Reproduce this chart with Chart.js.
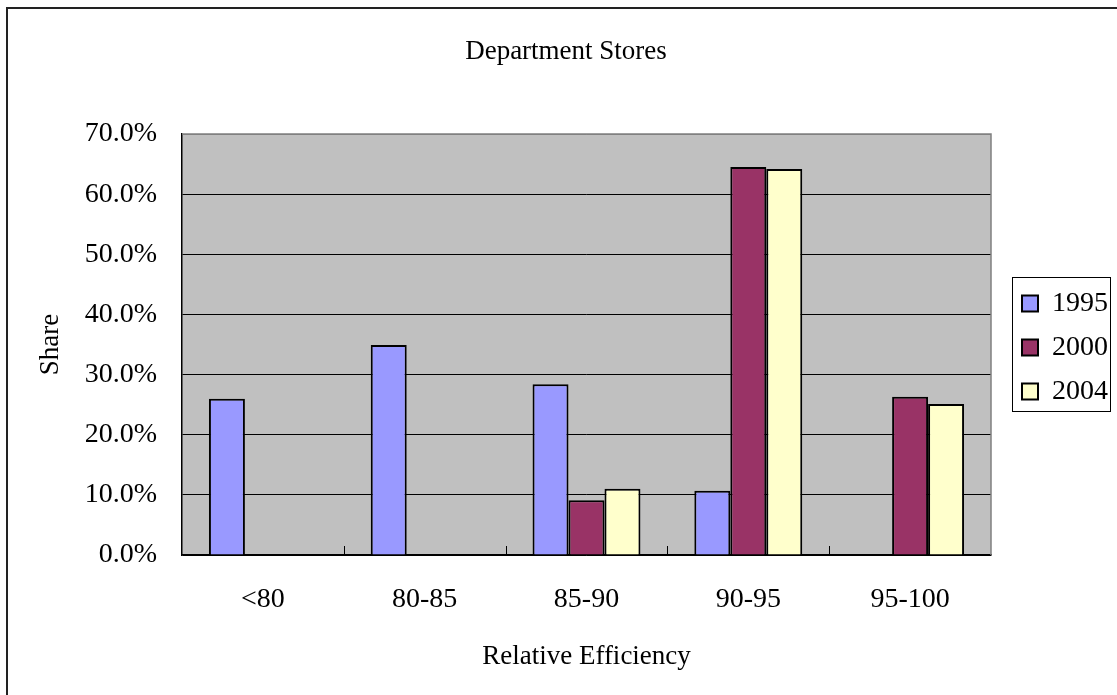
<!DOCTYPE html>
<html>
<head>
<meta charset="utf-8">
<script src="https://cdn.jsdelivr.net/npm/chart.js@4"></script>
<style>
  html, body { margin: 0; padding: 0; background: #fff; }
  canvas { display: block; }
</style>
</head>
<body>
<canvas id="chart" width="1117" height="695"></canvas>
<script>
const categories = ['<80', '80-85', '85-90', '90-95', '95-100'];
const years = ['1995', '2000', '2004'];
const share1995 = [26.0, 34.9, 28.4, 10.7, null];
const share2000 = [null, null, 9.1, 64.5, 26.3];
const share2004 = [null, null, 11.0, 64.2, 25.1];
const colors = ['#9999FF', '#993366', '#FFFFCC'];

const FONT = 'Liberation Serif, Times New Roman, serif';

// gray plot area, frame, inside x ticks, outer border, box round the legend
const excelLook = {
    id: 'excelLook',
    afterLayout(chart) {
        // leave a small gap between plot and legend, like Excel does
        chart.legend.left += 15;
        chart.legend.right += 15;
    },
    beforeDraw(chart) {
        const {ctx, chartArea: a} = chart;
        ctx.save();
        ctx.fillStyle = '#C0C0C0';
        ctx.fillRect(a.left, a.top, a.right - a.left, a.bottom - a.top);
        ctx.restore();
    },
    afterDraw(chart) {
        const {ctx, chartArea: a} = chart;
        const x = chart.scales.x;
        ctx.save();
        ctx.strokeStyle = '#808080';
        ctx.lineWidth = 1.5;
        ctx.beginPath();
        ctx.moveTo(a.left, a.top);
        ctx.lineTo(a.right, a.top);
        ctx.lineTo(a.right, a.bottom);
        ctx.stroke();

        ctx.strokeStyle = '#000';
        ctx.lineWidth = 1;
        const step = (a.right - a.left) / categories.length;
        for (let i = 1; i < categories.length; i++) {
            const px = Math.round(x.getPixelForValue(i) - step / 2) + 0.5;
            ctx.beginPath();
            ctx.moveTo(px, a.bottom);
            ctx.lineTo(px, a.bottom - 9);
            ctx.stroke();
        }

        ctx.strokeStyle = '#222';
        ctx.lineWidth = 2;
        ctx.beginPath();
        ctx.moveTo(7, chart.height);
        ctx.lineTo(7, 8);
        ctx.lineTo(chart.width, 8);
        ctx.stroke();

        const boxes = chart.legend.legendHitBoxes;
        if (boxes && boxes.length) {
            const first = boxes[0], last = boxes[boxes.length - 1];
            const left = first.left - 10;
            const top = first.top - 13;
            ctx.strokeStyle = '#000';
            ctx.lineWidth = 1;
            ctx.strokeRect(Math.round(left) + 0.5, Math.round(top) + 0.5, 98, Math.round(last.top + 33 - top));
        }
        ctx.restore();
    }
};

new Chart(document.getElementById('chart'), {
    type: 'bar',
    data: {
        labels: categories,
        datasets: [
            {label: years[0], data: share1995, backgroundColor: colors[0]},
            {label: years[1], data: share2000, backgroundColor: colors[1]},
            {label: years[2], data: share2004, backgroundColor: colors[2]}
        ].map(ds => Object.assign(ds, {
            borderColor: '#000',
            borderWidth: 2,
            categoryPercentage: 0.667,
            barPercentage: 1
        }))
    },
    options: {
        responsive: false,
        animation: false,
        layout: {
            padding: {top: 20, right: 14, bottom: 20, left: 29}
        },
        plugins: {
            legend: {
                position: 'right',
                labels: {
                    color: '#000',
                    boxWidth: 16,
                    boxHeight: 16,
                    padding: 16,
                    font: {family: FONT, size: 28}
                }
            },
            tooltip: {enabled: false},
            title: {
                display: true,
                text: 'Department Stores',
                color: '#000',
                font: {family: FONT, size: 27, weight: 'normal'},
                padding: {top: 16, bottom: 65.6}
            }
        },
        scales: {
            x: {
                afterFit: scale => { scale.height = 120; },
                grid: {display: false, drawTicks: false},
                border: {display: true, color: '#000', width: 1.5},
                ticks: {
                    color: '#000',
                    padding: 28,
                    maxRotation: 0,
                    font: {family: FONT, size: 28}
                },
                title: {
                    display: true,
                    text: 'Relative Efficiency',
                    color: '#000',
                    font: {family: FONT, size: 27},
                    padding: {top: 0, bottom: 2}
                }
            },
            y: {
                min: 0,
                max: 70,
                afterFit: scale => { scale.width = 153; },
                ticks: {
                    stepSize: 10,
                    color: '#000',
                    padding: 25,
                    font: {family: FONT, size: 28},
                    callback: v => v.toFixed(1) + '%'
                },
                grid: {
                    drawTicks: false,
                    color: c => c.tick && c.tick.value === 70 ? '#808080' : '#000',
                    lineWidth: 1
                },
                border: {display: true, color: '#000', width: 1.5},
                title: {
                    display: true,
                    text: 'Share',
                    color: '#000',
                    font: {family: FONT, size: 27},
                    padding: {top: 6, bottom: 0}
                }
            }
        }
    },
    plugins: [excelLook]
});
</script>
</body>
</html>
